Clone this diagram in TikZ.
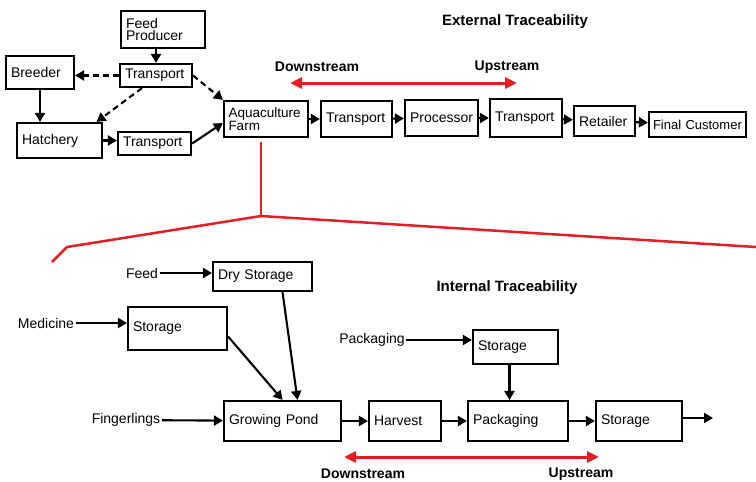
\documentclass[tikz,border=0pt]{standalone}
\usepackage{fontspec}
\setmainfont{Liberation Sans}
\usetikzlibrary{arrows.meta,positioning}

\definecolor{tracered}{RGB}{228,30,37}
\newcommand{\fsz}[2]{\fontsize{#1pt}{#2pt}\selectfont}

\tikzset{
  blk/.style={draw, line width=2.2pt, inner xsep=5pt, inner ysep=0pt, align=left, font=\fsz{14}{12.5}},
  lbl/.style={inner sep=1.5pt, font=\fsz{14}{14}},
  hdr/.style={inner sep=1pt, font=\bfseries\fsz{15}{15}},
  sub/.style={inner sep=1pt, font=\bfseries\fsz{14}{14}},
  flow/.style={line width=2.1pt, -{Triangle[length=9pt,width=10pt]}},
  dflow/.style={flow, dash pattern=on 6pt off 4pt},
  trace/.style={draw=tracered, line width=3pt, {Triangle[length=12pt,width=11pt]}-{Triangle[length=12pt,width=11pt]}},
  zoomline/.style={draw=tracered, line width=2.5pt, line join=round}
}

\begin{document}
\begin{tikzpicture}[x=1pt,y=-1pt]
\useasboundingbox (0,0) rectangle (756,482);

% external chain
\node[hdr] at (515,22) (exthdr){External Traceability};
\node[blk,text width=74pt,minimum height=37pt] at (163,29.5) (feedprod){Feed\\Producer};
\node[blk,text width=62pt,minimum height=23pt] at (156,75.5) (tpA){Transport};
\node[blk,text width=58pt,minimum height=33pt] at (40,72.5) (breeder){Breeder};
\node[blk,text width=75pt,minimum height=35pt] at (59.5,140.5) (hatch){Hatchery};
\node[blk,text width=63pt,minimum height=23pt] at (154.5,143.5) (tpB){Transport};
\node[blk,text width=75pt,minimum height=36pt,inner xsep=4.5pt,font=\fsz{13.5}{13}] at (266,119) (farm){Aquaculture\\Farm};
\node[blk,text width=61pt,minimum height=36pt] at (356.5,119) (tpC){Transport};
\node[blk,text width=63pt,minimum height=36pt] at (441.5,118) (proc){Processor};
\node[blk,text width=62pt,minimum height=38pt] at (526,118) (tpD){Transport};
\node[blk,text width=51pt,minimum height=30pt] at (604.5,121) (ret){Retailer};
\node[blk,text width=89pt,minimum height=25pt,inner xsep=4pt,font=\fsz{13}{13}] at (697.5,124.5) (final){Final Customer};

\draw[flow] (feedprod.south -| tpA.north) -- (tpA.north);
\draw[dflow] (tpA.west) -- (tpA.west -| breeder.east);
\draw[flow] (breeder.south) -- (breeder.south |- hatch.north);
\draw[dflow] ([xshift=-14pt]tpA.south) -- ([xshift=37pt]hatch.north);
\draw[dflow] (tpA.east) -- (farm.north west);
\draw[flow] (hatch.east) -- (hatch.east -| tpB.west);
\draw[flow] (tpB.east) -- ([yshift=-4pt]farm.west);
\foreach \a/\b in {farm/tpC,tpC/proc,proc/tpD,tpD/ret,ret/final}
  \draw[flow] (\a) -- (\b);

\node[sub] at (317,67) (extdown){Downstream};
\node[sub] at (507,67) (extup){Upstream};
\coordinate (extL) at (290,83);
\coordinate (extR) at (517,83);
\draw[trace] (extL) -- (extR);

% zoom into the farm
\draw[zoomline] (261,142) -- (261,216);
\draw[zoomline] (52,262) -- (67,247) -- (261,216) -- (756,247);

% internal chain
\node[hdr] at (507,288) (inthdr){Internal Traceability};
\node[blk,text width=89pt,minimum height=29pt] at (262.5,276.5) (dry){Dry Storage};
\node[blk,text width=89pt,minimum height=43pt] at (177.5,328.5) (sto){Storage};
\node[blk,text width=107pt,minimum height=40pt] at (282.5,421) (pond){Growing Pond};
\node[blk,text width=62pt,minimum height=40pt] at (405,421) (harv){Harvest};
\node[blk,text width=90pt,minimum height=40pt] at (518,421) (pack){Packaging};
\node[blk,text width=75pt,minimum height=34pt] at (515.5,347) (psto){Storage};
\node[blk,text width=76pt,minimum height=40pt] at (639,421) (stoout){Storage};

\node[lbl] at (142,273) (lfeed){Feed};
\node[lbl] at (46,323) (lmed){Medicine};
\node[lbl] at (126,420) (lfing){Fingerlings};
\node[lbl] at (372,340) (lpack){Packaging};
\coordinate (out) at (713,418);

\draw[flow] (lfeed) -- (lfeed -| dry.west);
\draw[flow] (lmed) -- (lmed -| sto.west);
\draw[flow] (lfing) -- (pond);
\draw[flow] (lpack) -- (lpack -| psto.west);
\draw[flow] ([yshift=-8pt]sto.east) -- (pond.north);
\draw[flow] ([xshift=20pt]dry.south) -- ([xshift=15pt]pond.north);
\draw[flow] ([xshift=-6pt]psto.south) -- ([xshift=-6pt]psto.south |- pack.north);
\foreach \a/\b in {pond/harv,harv/pack,pack/stoout}
  \draw[flow] (\a) -- (\b);
\draw[flow] (stoout.east |- out) -- (out);

\node[sub] at (363,474) (intdown){Downstream};
\node[sub] at (581,474) (intup){Upstream};
\coordinate (intL) at (344,457);
\coordinate (intR) at (599,457);
\draw[trace] (intL) -- (intR);

\end{tikzpicture}
\end{document}
